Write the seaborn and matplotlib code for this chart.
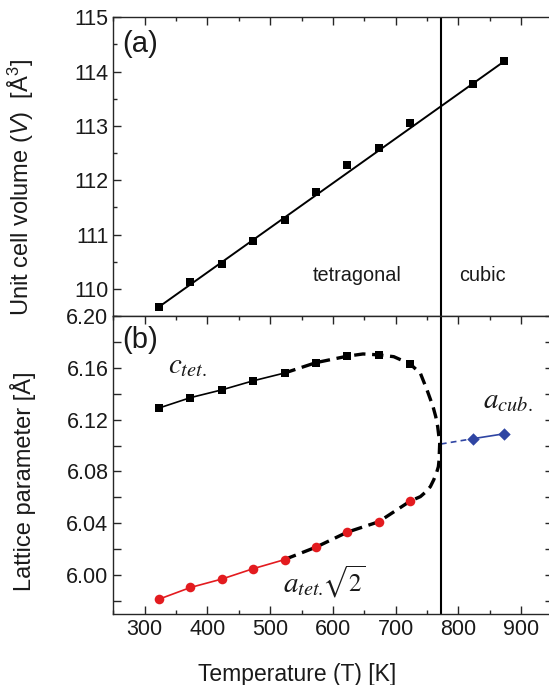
import matplotlib
matplotlib.use("Agg")
import matplotlib.pyplot as plt
from matplotlib.ticker import MultipleLocator, FormatStrFormatter
import seaborn as sns
import pandas as pd

# ---------------- data ----------------
T_tet = [323, 373, 423, 473, 523, 573, 623, 673, 723]
T_cub = [823, 873]
V_tet = [109.67, 110.12, 110.46, 110.88, 111.27, 111.78, 112.28, 112.59, 113.06]
V_cub = [113.78, 114.19]
fit_T = [323, 873]
fit_V = [109.67, 114.19]

c_tet = [6.129, 6.137, 6.143, 6.150, 6.156, 6.164, 6.169, 6.170, 6.163]
a_tet = [5.9815, 5.9905, 5.997, 6.005, 6.012, 6.0216, 6.0332, 6.0412, 6.0571]
a_cub = [6.1053, 6.1091]

# guide curve (dashed) read along the drawn path
curve_T = [523, 573, 623, 648, 673, 697, 723, 739.4, 750, 759.6, 763.9, 767,
           770.2, 769.2, 768.1, 764.9, 760.6, 755.3, 747.4, 739.4, 723, 673,
           623, 573, 523]
curve_a = [6.156, 6.164, 6.169, 6.1707, 6.170, 6.1686, 6.163, 6.1558, 6.1429,
           6.130, 6.1223, 6.1146, 6.1018, 6.0889, 6.0837, 6.0786, 6.0735,
           6.0683, 6.0640, 6.0606, 6.0571, 6.0412, 6.0332, 6.0216, 6.0121]

blue_dash_T = [772, 823]
blue_dash_a = [6.1012, 6.1053]

T_transition = 772
x_ticks = [300, 400, 500, 600, 700, 800, 900]

# ---------------- style ----------------
sns.set_theme(style="ticks")
plt.rcParams["font.family"] = ["Liberation Sans", "DejaVu Sans"]
plt.rcParams["mathtext.fontset"] = "custom"
plt.rcParams["mathtext.rm"] = "Liberation Sans"
plt.rcParams["mathtext.it"] = "Liberation Sans:italic"
plt.rcParams["axes.linewidth"] = 1.0

TXT = "#1a1a1a"
RED = "#e31b1f"
BLUE = "#2f45a3"

fig = plt.figure(figsize=(5.49, 6.85), dpi=100)
ax_a = fig.add_axes([0.2064, 0.5387, 0.8000, 0.4360])
ax_b = fig.add_axes([0.2064, 0.1036, 0.8000, 0.4351])

# ---------------- panel (a) ----------------
sns.lineplot(x=fit_T, y=fit_V, ax=ax_a, color="black", lw=1.4,
             sort=False, estimator=None)
dfa = pd.DataFrame({"T": T_tet + T_cub, "V": V_tet + V_cub})
sns.scatterplot(data=dfa, x="T", y="V", ax=ax_a, marker="s", s=30,
                color="black", edgecolor="black", linewidth=0, zorder=3)
ax_a.axvline(T_transition, color="black", lw=1.5)
ax_a.set_xlim(250, 950)
ax_a.set_ylim(109.5, 115)
ax_a.yaxis.set_major_locator(MultipleLocator(1))
ax_a.yaxis.set_minor_locator(MultipleLocator(0.5))
ax_a.set_xticks(x_ticks)
ax_a.xaxis.set_minor_locator(MultipleLocator(50))
ax_a.tick_params(axis="x", labelbottom=False)
ax_a.set_xlabel("")
ax_a.set_ylabel("Unit cell volume ($V$)  [Å$^3$]", fontsize=17, color=TXT)
ax_a.yaxis.set_label_coords(-0.176, 0.43)
ax_a.text(0.02, 0.958, "(a)", transform=ax_a.transAxes, fontsize=21,
          ha="left", va="top", color=TXT)
ax_a.text(639, 110.24, "tetragonal", fontsize=14.3, ha="center", va="center",
          color=TXT)
ax_a.text(838, 110.24, "cubic", fontsize=14.3, ha="center", va="center",
          color=TXT)
ax_a.tick_params(which="both", direction="in", top=True, bottom=False,
                 right=False, labelsize=15.5, labelcolor=TXT, width=1.0)
ax_a.tick_params(which="major", length=5.5)
ax_a.tick_params(which="minor", length=3)

# ---------------- panel (b) ----------------
sns.lineplot(x=curve_T, y=curve_a, ax=ax_b, color="black", lw=2.4,
             sort=False, estimator=None).lines[-1].set_dashes([3.4, 2.0])
sns.lineplot(x=T_tet[:5], y=c_tet[:5], ax=ax_b, color="black", lw=1.2,
             sort=False, estimator=None)
sns.lineplot(x=T_tet[:5], y=a_tet[:5], ax=ax_b, color=RED, lw=1.2,
             sort=False, estimator=None)
ln = sns.lineplot(x=blue_dash_T, y=blue_dash_a, ax=ax_b, color=BLUE, lw=1.2,
                  sort=False, estimator=None).lines[-1]
ln.set_dashes([3.5, 2.5])
sns.lineplot(x=T_cub, y=a_cub, ax=ax_b, color=BLUE, lw=1.2,
             sort=False, estimator=None)
sns.scatterplot(x=T_tet, y=c_tet, ax=ax_b, marker="s", s=30, color="black",
                linewidth=0, zorder=3)
sns.scatterplot(x=T_tet, y=a_tet, ax=ax_b, marker="o", s=48, color=RED,
                linewidth=0, zorder=3)
sns.scatterplot(x=T_cub, y=a_cub, ax=ax_b, marker="D", s=40, color=BLUE,
                linewidth=0, zorder=3)
ax_b.axvline(T_transition, color="black", lw=1.5)
ax_b.set_xlim(250, 950)
ax_b.yaxis.set_minor_locator(MultipleLocator(0.02))
ax_b.yaxis.set_major_formatter(FormatStrFormatter("%.2f"))
ax_b.set_yticks([6.00, 6.04, 6.08, 6.12, 6.16, 6.20])
ax_b.set_ylim(5.97, 6.20)
ax_b.set_xticks(x_ticks)
ax_b.xaxis.set_minor_locator(MultipleLocator(50))
ax_b.set_xlabel("Temperature (T) [K]", fontsize=16.5, color=TXT)
ax_b.xaxis.set_label_coords(0.4176, -0.163)
ax_b.set_ylabel("Lattice parameter [Å]", fontsize=17, color=TXT)
ax_b.yaxis.set_label_coords(-0.176, 0.446)
ax_b.text(0.02, 0.965, "(b)", transform=ax_b.transAxes, fontsize=21,
          ha="left", va="top", color=TXT)
ax_b.text(337, 6.156, r"$c_{tet.}$", fontsize=21, ha="left", va="baseline",
          math_fontfamily="stix", color=TXT)
ax_b.text(521, 5.9873, r"$a_{tet.}$", fontsize=21, ha="left",
          va="baseline", math_fontfamily="stix", color=TXT)
ax_b.text(582, 5.9873, r"$\sqrt{2}$", fontsize=18, ha="left",
          va="baseline", math_fontfamily="stix", color=TXT)
ax_b.text(840, 6.129, r"$a_{cub.}$", fontsize=21, ha="left", va="baseline",
          math_fontfamily="stix", color=TXT)
ax_b.tick_params(which="both", direction="in", top=True, right=True,
                 labelsize=15.5, labelcolor=TXT, width=1.0)
ax_b.tick_params(which="major", length=6)
ax_b.tick_params(which="minor", length=3)
ax_b.tick_params(axis="y", which="both", right=True, length=6)
ax_b.tick_params(axis="y", which="major", left=True, length=5.5)
ax_b.tick_params(axis="y", which="minor", left=True)

fig.savefig("out.png", dpi=100)
